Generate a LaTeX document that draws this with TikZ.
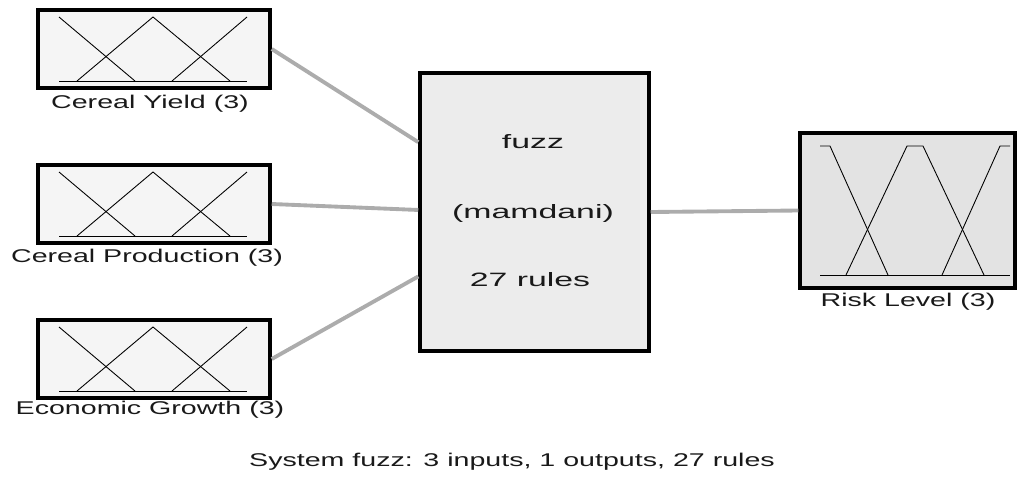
\documentclass[tikz,border=0pt]{standalone}
\usepackage{fontspec}
\setmainfont{Liberation Sans}[FakeStretch=1.55]
\newfontfamily\fisfont{Liberation Sans}[FakeStretch=1.75]

\begin{document}
\begin{tikzpicture}[x=0.02cm, y=-0.02cm,
    mfbox/.style={draw, line width=2pt, fill=gray!8, minimum width=4.64cm, minimum height=1.56cm, inner sep=0pt},
    fisbox/.style={draw, line width=2pt, fill=gray!15, minimum width=4.58cm, minimum height=5.56cm, inner sep=0pt},
    outbox/.style={draw, line width=2pt, fill=gray!22, minimum width=4.3cm, minimum height=3.1cm, inner sep=0pt},
    mflabel/.style={font=\fontsize{10.5}{12}\selectfont, text=black!90, inner sep=0pt},
    fistext/.style={font=\fisfont\fontsize{11}{13}\selectfont, text=black!90, inner sep=0pt},
    wire/.style={draw=gray!65, line width=2.2pt},
    mf/.style={line width=0.5pt}]
    \useasboundingbox (0,0) rectangle (1028,494);

    % Input variables
    \node[mfbox] (cy) at (154,49) {};
    \node[mfbox] (cp) at (154,204) {};
    \node[mfbox] (eg) at (154,359) {};
    \node[mflabel] (cylab) at (150,104) {Cereal Yield (3)};
    \node[mflabel] (cplab) at (147,258) {Cereal Production (3)};
    \node[mflabel] (eglab) at (150,410) {Economic Growth (3)};

    % Membership functions of the inputs
    \foreach \y in {0,155,310} {
        \draw[mf] (59,81+\y) -- (247,81+\y);
        \draw[mf] (59,17+\y) -- (135,81+\y);
        \draw[mf] (77,81+\y) -- (153,17+\y) -- (230,81+\y);
        \draw[mf] (172,81+\y) -- (247,17+\y);
    }

    % Inference system
    \node[fisbox] (fis) at (534.5,212) {};
    \node[fistext] (fisname) at (533,142) {fuzz};
    \node[fistext] (fistype) at (533,213) {(mamdani)};
    \node[fistext] (fisrules) at (530,280) {27 rules};

    % Output variable
    \node[outbox] (rl) at (907.5,210.5) {};
    \node[mflabel] (rllab) at (908,302) {Risk Level (3)};
    \draw[mf] (820,275) -- (1010,275);
    \draw[mf] (820,146) -- (830,146) -- (888,275);
    \draw[mf] (846,275) -- (907,146) -- (923,146) -- (984,275);
    \draw[mf] (942,275) -- (1000,146) -- (1010,146);

    % Connections
    \draw[wire] (cy.east) -- (fis.149);
    \draw[wire] (cp.east) -- (fis.179);
    \draw[wire] (eg.east) -- (fis.209);
    \draw[wire] (fis.east) -- (rl.west);

    % Summary
    \node[mflabel] (summary) at (512,462) {System fuzz: 3 inputs, 1 outputs, 27 rules};
\end{tikzpicture}
\end{document}
